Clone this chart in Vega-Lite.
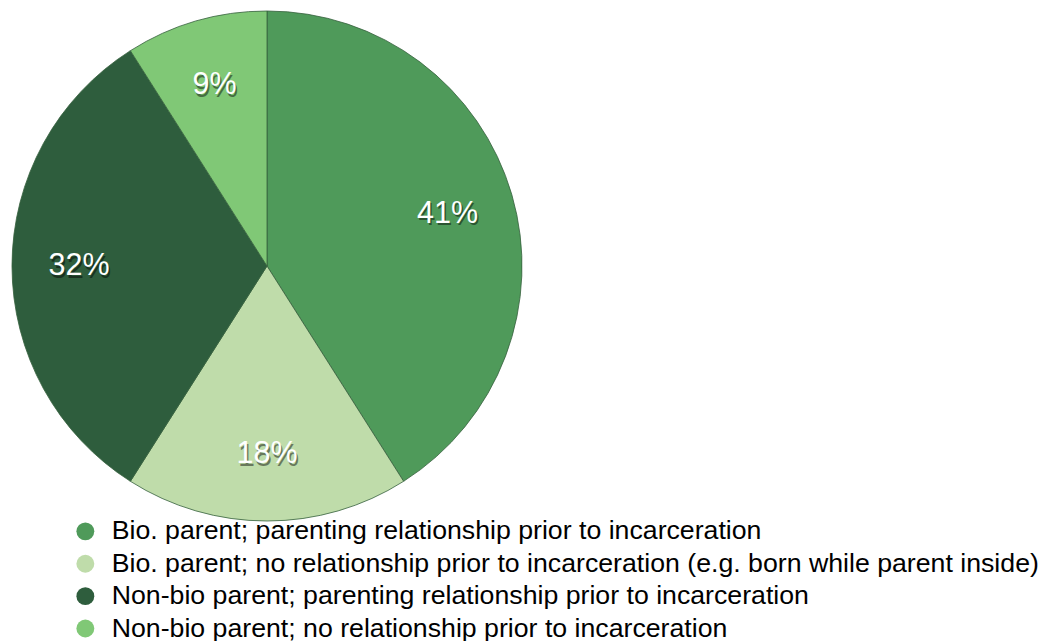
{
  "$schema": "https://vega.github.io/schema/vega-lite/v6.json",
  "width": 510,
  "height": 510,
  "padding": {"left": 10, "top": 9, "right": 0, "bottom": 0},
  "autosize": {"type": "pad"},
  "background": "white",
  "data": {
    "values": [
      {"category": "Bio. parent; parenting relationship prior to incarceration", "pct": 41, "label": "41%", "order": 1},
      {"category": "Bio. parent; no relationship prior to incarceration (e.g. born while parent inside)", "pct": 18, "label": "18%", "order": 2},
      {"category": "Non-bio parent; parenting relationship prior to incarceration", "pct": 32, "label": "32%", "order": 3},
      {"category": "Non-bio parent; no relationship prior to incarceration", "pct": 9, "label": "9%", "order": 4}
    ]
  },
  "encoding": {
    "theta": {"field": "pct", "type": "quantitative", "stack": true},
    "order": {"field": "order", "type": "quantitative"}
  },
  "layer": [
    {
      "mark": {"type": "arc", "stroke": "#35603c", "strokeWidth": 0.8},
      "encoding": {
        "color": {
          "field": "category",
          "type": "nominal",
          "sort": null,
          "scale": {
            "domain": [
              "Bio. parent; parenting relationship prior to incarceration",
              "Bio. parent; no relationship prior to incarceration (e.g. born while parent inside)",
              "Non-bio parent; parenting relationship prior to incarceration",
              "Non-bio parent; no relationship prior to incarceration"
            ],
            "range": ["#4f9a5a", "#bfdcaa", "#2e5d3d", "#80c876"]
          },
          "legend": {
            "title": null,
            "orient": "none",
            "legendX": 60,
            "legendY": 507,
            "symbolType": "circle",
            "symbolSize": 320,
            "symbolStrokeWidth": 0,
            "symbolOpacity": 1,
            "labelFont": "Liberation Sans",
            "labelFontSize": 26.7,
            "labelColor": "#000000",
            "labelLimit": 1200,
            "labelOffset": 13,
            "rowPadding": 4.4
          }
        }
      }
    },
    {
      "mark": {"type": "text", "radius": 188, "font": "Liberation Sans", "fontSize": 30.5, "fill": "#000000", "opacity": 0.45, "dx": 1.5, "dy": 2.5},
      "encoding": {"text": {"field": "label"}}
    },
    {
      "mark": {"type": "text", "radius": 188, "font": "Liberation Sans", "fontSize": 30.5, "fill": "#ffffff"},
      "encoding": {"text": {"field": "label"}}
    }
  ]
}
